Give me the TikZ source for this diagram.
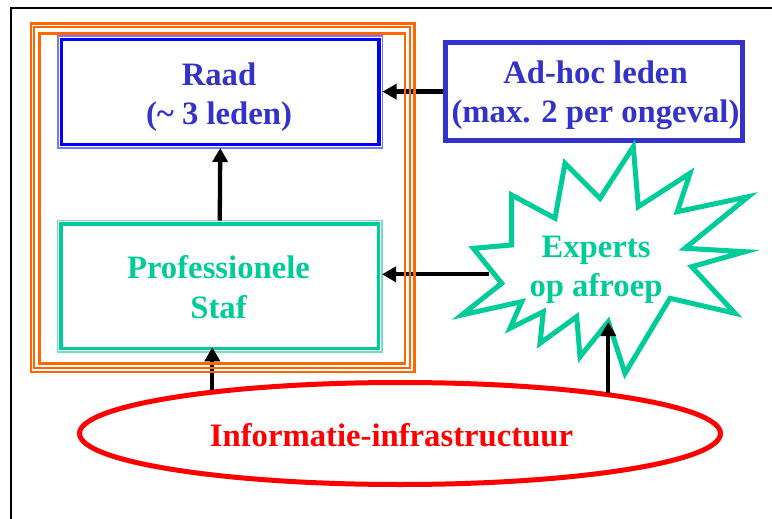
\documentclass[tikz,border=0pt]{standalone}
\usepackage{fontspec}
\setmainfont{Liberation Serif}
\usetikzlibrary{arrows.meta,shapes.geometric}
\definecolor{raadblue}{HTML}{0000FF}
\definecolor{raadlight}{HTML}{7777FF}
\definecolor{inkblue}{HTML}{3333CC}
\definecolor{staffteal}{HTML}{00CC99}
\definecolor{stafflight}{HTML}{77DDBB}
\definecolor{frameorange}{HTML}{FF6600}
\definecolor{infored}{HTML}{FF0000}

\begin{document}
\begin{tikzpicture}[x=1pt,y=-1pt,
  lbl/.style={font=\bfseries\fontsize{32.7}{39.3}\selectfont, align=center, inner sep=0pt},
  box/.style={rectangle, line width=3.3pt, outer sep=3.5pt, minimum width=317.5pt},
  rim/.style={line width=1.5pt},
  link/.style={line width=4.3pt, -{Triangle[length=14pt,width=15pt]}},
]
\useasboundingbox (0,0) rectangle (772,519);

% page rules, top and left
\draw[line width=2pt] (11,519) -- (11,8.3) -- (772,8.3);

% Raad
\node[box, draw=raadblue, minimum height=105pt] (raad) at (220.25,92) {};
\draw[rim, raadlight] (raad.north west) rectangle (raad.south east);
\node[lbl, text=inkblue] (raadtxt) at (219,96.9) {Raad\\(\textasciitilde{} 3 leden)};

% Professionele staf
\node[box, draw=staffteal, minimum height=124.3pt] (staf) at (219.75,286.15) {};
\draw[rim, stafflight] (staf.north west) rectangle (staf.south east);
\node[lbl, text=staffteal] (staftxt) at (218.5,287) {Professionele\\Staf};

% Ad-hoc leden
\node[rectangle, draw=inkblue, line width=5pt, minimum width=296.7pt, minimum height=98.3pt] (adhoc) at (594.15,91.65) {};
\node[lbl, text=inkblue] (adhoctxt) at (595.5,95.5) {Ad-hoc leden\\(max. 2 per ongeval)};

% Experts op afroep: explosion outline
\draw[staffteal, line width=5pt, line join=miter]
  (633.3,146.7) -- (638.3,206.7) -- (690,173.3) -- (677.3,211.7) --
  (748.3,196.7) -- (685,248.3) -- (745,251.7) -- (691.7,266.7) --
  (735,313.3) -- (670,298.3) -- (625,373.3) -- (608.3,321.7) --
  (580,356.7) -- (576.7,316.7) -- (540,343.3) -- (543.3,311.7) --
  (510,328.3) -- (521.7,301.7) -- (461.7,315) -- (501.7,283.3) --
  (473.3,248.3) -- (511.7,245) -- (511.7,195) -- (555,218.3) --
  (565,163.3) -- (600,198.3) -- cycle;
\node[lbl, text=staffteal] (experts) at (596,270.1) {Experts\\op afroep};

% Informatie-infrastructuur
\node[ellipse, draw=infored, line width=5pt, minimum width=641pt, minimum height=102pt,
      font=\bfseries\fontsize{32.7}{39.3}\selectfont, text=infored,
      text height=26.4pt, text depth=0pt, inner sep=0pt] (info) at (400,433.5)
      {Informatie-infrastructuur\kern17pt};

% connectors
\coordinate (expin) at (489,274.3);
\coordinate (startip) at (608.3,322);
\coordinate (infoL) at (212.3,390);
\coordinate (infoR) at (608.3,393);
\draw[link] (adhoc.west) -- (adhoc.west -| raad.east);
\draw[link] (staf.north) -- (raad.south);
\draw[link] (expin) -- (expin -| staf.east);
\draw[link, shorten >=-4.5pt] (infoL) -- (infoL |- staf.south);
\draw[link] (infoR) -- (startip);

% triple orange frame around Raad and staf
\draw[frameorange, line width=2.7pt] (31,23.3) rectangle (414.7,372);
\draw[frameorange, line width=2pt] (34,27) rectangle (409.7,367.7);
\draw[frameorange, line width=2.5pt] (39.7,33.3) rectangle (405,363.7);
\end{tikzpicture}
\end{document}
